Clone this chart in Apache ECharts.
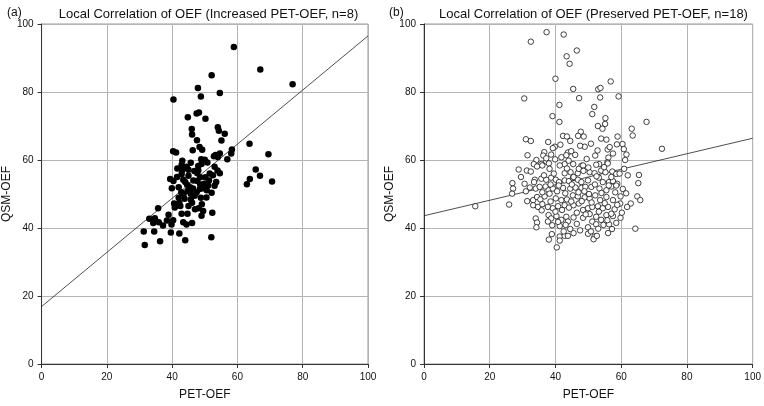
<!DOCTYPE html>
<html><head><meta charset="utf-8">
<script src="https://cdn.jsdelivr.net/npm/echarts@6/dist/echarts.min.js"></script>
<style>html,body{margin:0;padding:0;background:#fff}#c{width:764px;height:406px}</style>
</head><body><div id="c"></div>
<script>
const titleA = "Local Correlation of OEF (Increased PET-OEF, n=8)";
const titleB = "Local Correlation of OEF (Preserved PET-OEF, n=18)";
const xName = "PET-OEF";
const yName = "QSM-OEF";
const axisMin = 0, axisMax = 100, axisStep = 20;

const increasedPoints = [[58.9,93.2],[67.0,86.6],[76.9,82.3],[52.1,84.9],[47.9,81.2],[54.6,79.7],[48.8,78.7],[40.4,77.8],[48.2,74.0],[47.5,73.7],[44.8,72.6],[50.2,72.1],[54.0,69.6],[54.3,68.6],[46.0,69.1],[46.1,67.5],[56.1,67.7],[55.1,65.7],[47.6,65.8],[48.4,63.8],[63.7,64.8],[46.3,62.9],[49.2,63.0],[40.3,62.6],[41.2,62.2],[58.3,63.1],[58.1,61.9],[56.9,60.2],[69.5,61.7],[53.3,61.5],[54.6,61.9],[54.0,60.9],[52.8,61.1],[48.9,60.2],[50.0,60.1],[50.8,59.3],[43.1,59.8],[45.7,59.2],[42.9,58.5],[44.4,58.0],[41.6,57.5],[48.0,58.2],[45.0,57.1],[43.1,57.0],[65.6,57.2],[53.9,56.9],[54.6,56.1],[42.9,55.9],[47.7,56.1],[66.9,55.4],[63.8,54.4],[62.9,52.9],[70.6,53.7],[39.4,54.4],[40.4,53.8],[43.4,54.2],[45.0,55.4],[48.6,54.9],[50.2,54.9],[51.3,54.0],[47.7,53.8],[53.5,53.5],[53.0,52.4],[39.9,51.7],[42.0,52.0],[44.6,52.7],[46.4,51.6],[48.6,52.8],[49.5,51.7],[50.6,51.1],[52.1,50.4],[42.8,50.5],[44.7,50.9],[45.7,50.1],[46.9,49.5],[42.0,48.9],[43.8,48.6],[45.7,48.4],[48.8,48.9],[40.6,47.2],[42.2,47.4],[46.1,47.4],[49.1,47.0],[40.8,46.0],[35.7,45.8],[38.9,43.9],[42.9,44.2],[44.7,44.2],[48.1,45.8],[49.5,45.0],[52.3,44.5],[49.0,43.6],[33.0,42.7],[34.7,42.9],[35.9,41.7],[34.2,41.5],[38.4,42.2],[40.3,42.3],[37.2,40.7],[39.8,41.0],[43.4,41.7],[44.4,41.0],[46.1,41.5],[31.3,39.0],[34.5,39.0],[39.6,38.7],[42.2,38.4],[36.3,36.1],[44.0,36.4],[31.6,35.0],[52.0,37.3],
[44.0,53.5],[46.5,54.0],[47.5,50.5],[48.0,57.0],[45.5,52.0],[49.8,53.0],[51.5,56.0],[43.5,50.0],[46.8,56.8],[50.5,49.0],[47.0,45.5],[52.5,55.5],[53.0,58.0],[41.5,55.0],[45.0,46.5],[49.0,58.8],[51.0,52.5],[44.5,57.8],[48.5,51.5],[42.5,46.5]];

const preservedPoints = [[37.3,97.6],[42.5,96.9],[32.5,94.8],[46.5,92.2],[43.4,90.5],[44.3,88.3],[40.0,83.9],[56.8,83.1],[45.4,80.9],[53.0,80.8],[53.7,81.2],[30.5,78.1],[47.2,78.2],[53.6,78.4],[59.2,78.7],[41.2,76.2],[51.8,75.6],[39.1,72.9],[51.2,73.5],[41.2,71.2],[55.2,72.3],[52.9,70.0],[55.1,70.6],[54.3,69.2],[63.2,69.2],[67.7,71.2],[63.5,67.2],[47.7,68.3],[42.3,67.1],[43.5,66.9],[46.9,67.1],[48.6,66.9],[44.5,65.6],[53.9,66.3],[55.5,66.0],[58.9,66.9],[31.0,66.1],[32.5,65.6],[37.8,65.3],[58.7,64.6],[60.4,64.7],[41.5,64.5],[39.8,63.9],[39.2,63.5],[48.9,63.9],[72.4,63.3],[55.9,63.1],[60.8,63.2],[31.5,61.4],[36.6,62.3],[43.8,62.2],[44.8,62.6],[36.3,61.3],[38.7,61.6],[43.3,61.4],[52.1,61.3],[56.1,60.7],[61.6,61.6],[34.2,60.0],[39.9,60.2],[42.8,58.8],[53.3,58.8],[55.8,59.3],[61.2,60.0],[35.7,58.8],[33.4,58.8],[37.2,59.6],[38.0,59.0],[45.4,58.8],[47.9,58.3],
[31.3,56.9],[32.5,56.6],[34.4,58.1],[36.0,58.4],[38.2,57.4],[41.3,58.4],[42.8,56.1],[44.6,56.4],[46.8,56.1],[47.1,57.4],[48.4,58.4],[50.4,56.4],[51.9,56.1],[53.9,56.9],[55.2,56.4],[57.3,56.6],[58.5,55.9],[60.9,57.4],[65.4,55.6],[55.9,59.0],[52.4,58.6],
[26.9,53.2],[30.6,53.0],[28.8,57.2],[33.7,54.2],[35.7,54.5],[37.2,54.2],[38.7,54.8],[40.1,54.2],[41.1,53.5],[42.8,54.0],[44.1,53.8],[45.3,54.7],[46.8,54.2],[47.9,53.5],[49.9,54.0],[53.2,54.8],[54.4,53.5],[56.3,53.5],[57.5,53.8],[58.8,53.0],[65.2,53.2],
[27.1,51.6],[26.8,50.1],[32.2,51.9],[34.0,51.6],[35.2,52.1],[37.0,52.2],[37.9,51.1],[39.2,51.6],[40.5,50.8],[42.3,51.8],[44.5,51.6],[46.1,51.9],[47.9,51.8],[49.1,52.1],[50.9,52.1],[53.4,51.6],[55.5,51.1],[57.0,52.2],[58.5,52.5],
[31.4,47.9],[33.2,48.2],[34.4,49.1],[35.4,48.4],[36.7,49.3],[38.2,50.1],[40.1,48.7],[41.8,48.2],[43.5,48.4],[45.3,49.6],[46.8,49.3],[48.9,49.0],[50.4,48.7],[52.1,49.6],[53.6,48.2],[55.5,49.1],[57.5,48.2],[59.8,49.3],[25.9,46.9],[15.6,46.4],[64.9,49.3],[65.8,48.2],[62.9,47.2],[61.8,46.2],
[33.2,46.7],[34.7,46.2],[36.0,47.0],[37.7,46.2],[39.2,45.8],[40.8,46.4],[42.8,46.7],[44.1,46.0],[45.5,46.7],[47.1,47.2],[48.4,45.3],[49.9,45.8],[51.2,46.2],[52.9,46.4],[54.4,45.8],[56.0,46.2],[58.0,45.5],[59.7,47.2],
[34.0,42.8],[34.4,41.6],[37.9,43.8],[38.7,42.8],[40.3,43.5],[41.8,42.4],[43.3,43.3],[45.5,43.1],[43.8,41.9],[37.7,41.9],[48.4,43.0],[50.4,44.1],[52.4,43.3],[53.9,42.4],[55.5,43.8],[57.5,43.5],[59.8,43.0],[51.2,41.9],
[34.2,40.2],[41.3,40.6],[43.1,40.9],[44.5,39.7],[49.9,40.2],[52.4,41.1],[54.6,40.9],[56.3,41.1],[57.2,39.7],[64.3,39.8],
[38.9,38.2],[38.0,36.6],[41.3,37.5],[42.8,37.7],[43.8,37.7],[41.3,36.3],[49.9,38.3],[51.9,37.5],[51.6,36.7],[52.6,37.7],[56.0,38.5],[40.4,34.3],
[36.5,55.5],[39.5,56.0],[43.5,57.5],[45.5,55.0],[48.5,56.8],[50.0,57.8],[52.5,55.2],[54.8,57.9],[57.0,55.0],[59.5,56.0],
[36.0,50.5],[38.5,52.8],[41.0,52.5],[43.0,50.2],[45.0,52.8],[47.0,50.5],[48.8,50.8],[50.2,50.0],[52.0,52.8],[54.0,50.3],[56.2,52.5],[58.2,50.5],[60.5,51.5],
[35.8,45.2],[38.5,47.8],[40.0,44.8],[42.0,45.3],[44.8,47.8],[46.5,44.5],[48.0,47.9],[49.2,44.0],[51.0,47.5],[53.2,44.8],[55.0,47.3],[57.0,44.2],[58.8,46.8],
[39.0,40.8],[40.8,41.8],[42.5,39.0],[46.5,41.2],[47.5,39.3],[50.8,39.0],[53.0,39.8],[55.8,42.3],[58.5,41.5],[45.5,38.5],
[37.2,60.5],[41.8,60.8],[46.0,61.5],[49.5,60.3],[52.8,62.8],[57.5,61.9],[50.8,64.8],[47.5,64.2],[56.5,63.8],[44.0,59.8],
[33.5,53.5],[31.0,50.8],[29.5,55.0],[62.0,55.5],[61.5,50.2],[60.2,44.5]];

const fitIncreased = [[0,16.9],[100,96.5]];
const fitPreserved = [[0,43.6],[100,66.4]];

const FONT = 'Liberation Sans, Arial, sans-serif';
const chart = echarts.init(document.getElementById('c'), null, {renderer:'canvas'});

function xAx(i){
  return {gridIndex:i,type:'value',min:axisMin,max:axisMax,interval:axisStep,
    name:xName,nameLocation:'middle',nameGap:25,
    nameTextStyle:{fontFamily:FONT,fontSize:12,color:'#111'},
    axisLine:{show:true,onZero:false,lineStyle:{color:'#333',width:1}},
    axisTick:{show:true,length:4,lineStyle:{color:'#333'}},
    axisLabel:{fontFamily:FONT,fontSize:10,color:'#111',margin:8},
    splitLine:{show:true,lineStyle:{color:'#b4b4b4',width:1}}};
}
function yAx(i){
  return {gridIndex:i,type:'value',min:axisMin,max:axisMax,interval:axisStep,
    name:yName,nameLocation:'middle',nameGap:22,
    nameTextStyle:{fontFamily:FONT,fontSize:12,color:'#111'},
    axisLine:{show:true,onZero:false,lineStyle:{color:'#333',width:1}},
    axisTick:{show:true,length:4,lineStyle:{color:'#333'}},
    axisLabel:{fontFamily:FONT,fontSize:10,color:'#111',margin:8},
    splitLine:{show:true,lineStyle:{color:'#b4b4b4',width:1}}};
}

chart.setOption({
  animation:false,
  backgroundColor:'#fff',
  title:[
    {text:titleA,left:203.5,textAlign:'center',top:3,textStyle:{fontFamily:FONT,fontSize:13,fontWeight:'normal',color:'#111'}},
    {text:titleB,left:588.5,textAlign:'center',top:3,textStyle:{fontFamily:FONT,fontSize:13,fontWeight:'normal',color:'#111'}},
    {text:'(a)',left:2,top:2,textStyle:{fontFamily:FONT,fontSize:12,fontWeight:'normal',color:'#111'}},
    {text:'(b)',left:384,top:2,textStyle:{fontFamily:FONT,fontSize:12,fontWeight:'normal',color:'#111'}}
  ],
  grid:[
    {left:39,top:24,width:329,height:345,show:true,borderColor:'#999',borderWidth:1,backgroundColor:'transparent'},
    {left:424,top:24,width:329,height:345,show:true,borderColor:'#999',borderWidth:1,backgroundColor:'transparent'}
  ],
  xAxis:[xAx(0),xAx(1)],
  yAxis:[yAx(0),yAx(1)],
  series:[
    {type:'line',xAxisIndex:0,yAxisIndex:0,data:fitIncreased,symbol:'none',z:1,lineStyle:{color:'#222',width:0.8}},
    {type:'scatter',xAxisIndex:0,yAxisIndex:0,data:increasedPoints,symbol:'circle',symbolSize:6.5,z:2,itemStyle:{color:'#000',opacity:1}},
    {type:'line',xAxisIndex:1,yAxisIndex:1,data:fitPreserved,symbol:'none',z:1,lineStyle:{color:'#222',width:0.8}},
    {type:'scatter',xAxisIndex:1,yAxisIndex:1,data:preservedPoints,symbol:'circle',symbolSize:5.5,z:2,itemStyle:{color:'#fff',borderColor:'#111',borderWidth:0.8,opacity:1}}
  ]
});
</script></body></html>
